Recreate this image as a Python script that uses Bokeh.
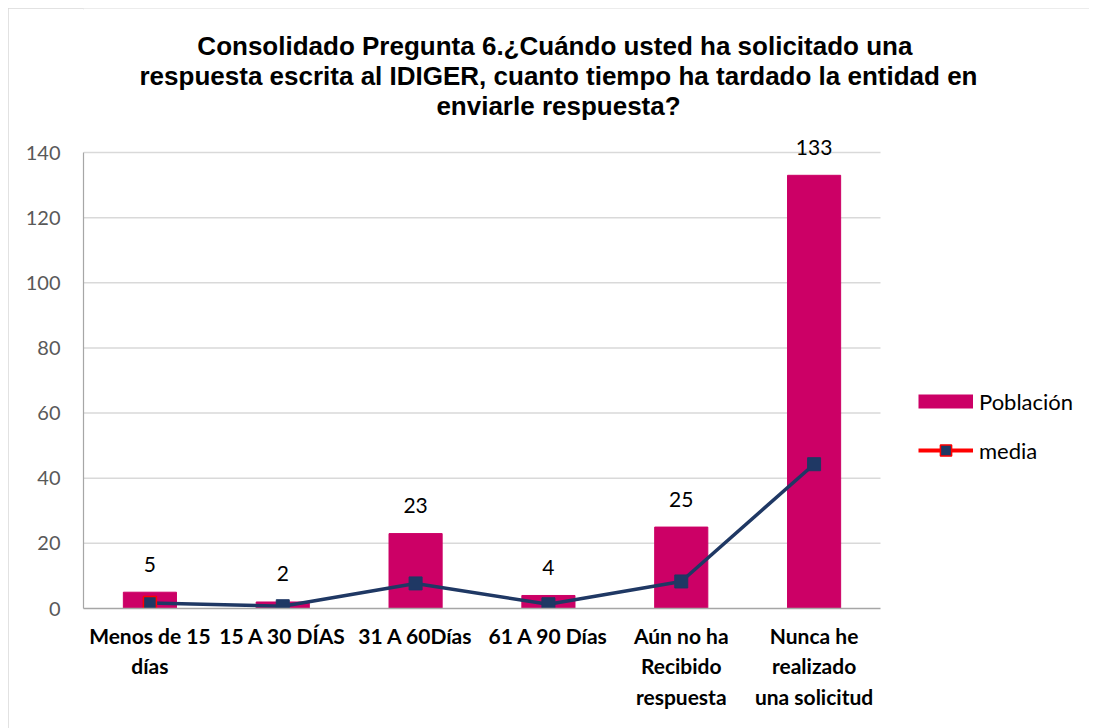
from bokeh.plotting import figure
from bokeh.models import (ColumnDataSource, Legend, LegendItem, Range1d,
                          FixedTicker, LabelSet, Label)
from bokeh.core.properties import value
from bokeh.embed import file_html
from bokeh.resources import INLINE

categories = ["Menos de 15\ndías", "15 A 30 DÍAS", "31 A 60Días", "61 A 90 Días",
              "Aún no ha\nRecibido\nrespuesta", "Nunca he\nrealizado\nuna solicitud"]
poblacion = [5, 2, 23, 4, 25, 133]
media = [1.7, 0.7, 7.7, 1.3, 8.3, 44.3]
y_ticks = [0, 20, 40, 60, 80, 100, 120, 140]
title_lines = ["Consolidado Pregunta  6.¿Cuándo usted ha solicitado una",
               "respuesta escrita al IDIGER, cuanto tiempo ha tardado la entidad en",
               "enviarle respuesta?"]

BAR = "#CC0066"
NAVY = "#1F3864"
GRID = "#D9D9D9"
AXIS = "#A6A6A6"
FONT = "Lato"

n = len(categories)
xs = list(range(n))
y_max = y_ticks[-1]

src = ColumnDataSource(dict(x=xs, pob=poblacion, med=media,
                            lbl=[str(v) for v in poblacion]))

# plot frame extended to the right and top so that title and legend live inside it
W, H = 1096, 724
frame_w = W - 75
p = figure(width=W, height=H, x_range=Range1d(-0.5, -0.5 + n * frame_w / 797),
           y_range=Range1d(0, y_max * 600 / 456), output_backend="svg",
           toolbar_location=None, min_border_left=75, min_border_right=0,
           min_border_top=0, min_border_bottom=H - 600)
p.outline_line_color = None
p.border_fill_color = "white"
p.background_fill_color = "white"
p.xgrid.visible = False
p.ygrid.visible = False
p.styles = {"outline": "2px solid #D9D9D9", "outline-offset": "-2px"}

# horizontal grid lines at the tick values, across the category band
p.segment(x0=-0.5, x1=n - 0.5, y0=y_ticks[1:], y1=y_ticks[1:], line_color=GRID,
          line_width=1.5)

bars = p.vbar(x="x", top="pob", width=0.4, source=src, fill_color=BAR, line_color=BAR)
line = p.line(x="x", y="med", source=src, line_color=NAVY, line_width=3.5)
p.scatter(x="x", y="med", source=src, marker="square", size=13,
          fill_color=NAVY, line_color=NAVY)
first = ColumnDataSource(dict(x=xs[:1], med=media[:1]))
p.scatter(x="x", y="med", source=first, marker="square", size=13,
          fill_color=NAVY, line_color="#FF0000", line_width=1.5)

labels = LabelSet(x="x", y="pob", text="lbl", source=src, text_align="center",
                  text_baseline="middle", y_offset=28, text_font=value(FONT),
                  text_font_size="21px", text_color="#000000")
p.add_layout(labels)

# y axis
p.yaxis.ticker = FixedTicker(ticks=y_ticks)
p.yaxis.bounds = (0, y_max)
p.yaxis.major_label_text_font = FONT
p.yaxis.major_label_text_font_size = "20px"
p.yaxis.major_label_text_color = "#595959"
p.yaxis.axis_line_color = AXIS
p.yaxis.axis_line_width = 1.2
p.yaxis.major_tick_line_color = None
p.yaxis.major_tick_out = 0
p.yaxis.major_tick_in = 0
p.yaxis.minor_tick_line_color = None
p.yaxis.major_label_standoff = 23

# x axis with category labels
p.xaxis.ticker = FixedTicker(ticks=xs)
p.xaxis.major_label_overrides = {i: c for i, c in zip(xs, categories)}
p.xaxis.bounds = (-0.5, n - 0.5)
p.xaxis.major_label_text_font = FONT
p.xaxis.major_label_text_font_style = "bold"
p.xaxis.major_label_text_font_size = "21px"
p.xaxis.major_label_text_line_height = 1.22
p.xaxis.major_label_text_color = "#000000"
p.xaxis.axis_line_color = AXIS
p.xaxis.axis_line_width = 1.5
p.xaxis.major_tick_line_color = None
p.xaxis.major_tick_out = 0
p.xaxis.major_tick_in = 0
p.xaxis.minor_tick_line_color = None
p.xaxis.major_label_standoff = 14

# title (three centred lines)
for i, t in enumerate(title_lines):
    p.add_layout(Label(x=475, y=563 - 30 * i, x_units="screen", y_units="screen", text=t,
                       text_align="center", text_baseline="middle",
                       text_font="Liberation Sans", text_font_style="bold",
                       text_font_size="26px", text_color="#000000"))

# legend (sample glyphs come from renderers whose single point lies off the visible range)
off = dict(x=[-5], y=[-5])
leg_bar = p.line(x="x", y="y", source=ColumnDataSource(off), line_color=BAR,
                 line_width=14, line_cap="butt")
leg_line = p.line(x="x", y="y", source=ColumnDataSource(off), line_color="#FF0000",
                  line_width=4)
leg_mark = p.scatter(x="x", y="y", source=ColumnDataSource(off), marker="square", size=13,
                     fill_color=NAVY, line_color="#FF0000", line_width=1.5)
legend = Legend(items=[LegendItem(label="Población", renderers=[leg_bar]),
                       LegendItem(label="media", renderers=[leg_line, leg_mark])],
                location=(835, 144), orientation="vertical",
                border_line_color=None, background_fill_alpha=0,
                label_text_font=FONT, label_text_font_size="22px",
                label_text_color="#000000", glyph_width=55, glyph_height=28,
                label_height=28, spacing=21, padding=0, margin=0, label_standoff=6)
p.add_layout(legend)

html = file_html(p, INLINE)
html = html.replace("<body>", '<body style="margin:8px; overflow:hidden">')
open("out.html", "w").write(html)
